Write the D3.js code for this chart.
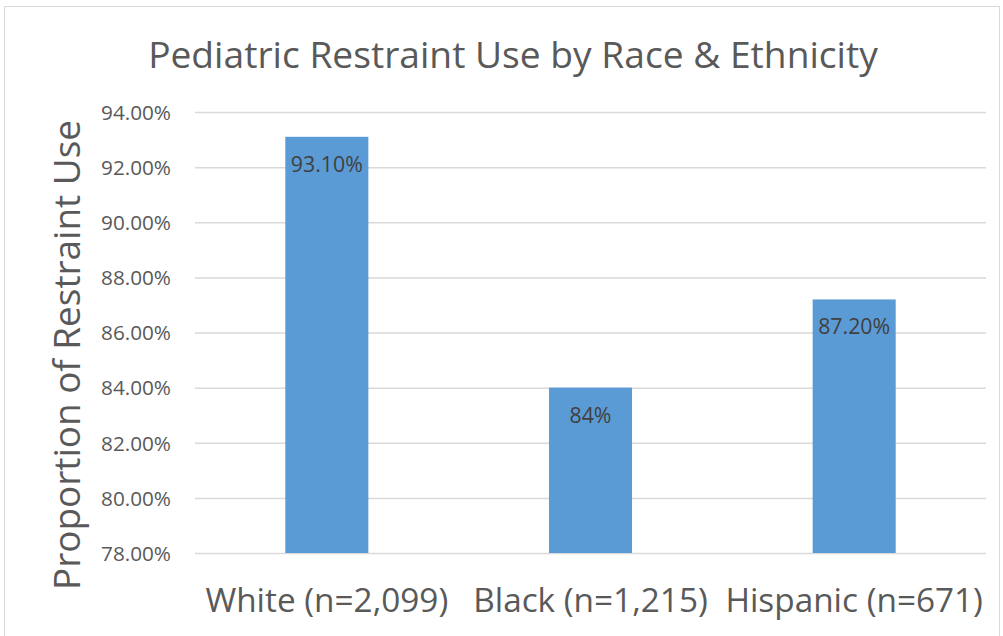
<!DOCTYPE html>
<html><head><meta charset="utf-8">
<script src="https://cdn.jsdelivr.net/npm/d3@7"></script>
<style>body{margin:0;background:#fff;} svg{display:block;}</style>
</head><body>
<svg id="chart" width="1003" height="636"></svg>
<script>
const categories = ["White (n=2,099)", "Black (n=1,215)", "Hispanic (n=671)"];
const values = [93.1, 84, 87.2];
const valueLabels = ["93.10%", "84%", "87.20%"];
const yTicks = [78, 80, 82, 84, 86, 88, 90, 92, 94];
const title = "Pediatric Restraint Use by Race & Ethnicity";
const yTitle = "Proportion of Restraint Use";

const FONT = "'Open Sans', 'Noto Sans', sans-serif";
const svg = d3.select("#chart");
const plot = {left: 195, right: 986, top: 112, bottom: 553};

svg.append("rect").attr("x", 4.5).attr("y", 6.5).attr("width", 995).attr("height", 640)
  .attr("fill", "#fff").attr("stroke", "#D9D9D9").attr("stroke-width", 1);

const x = d3.scaleBand().domain(categories).range([plot.left, plot.right]).padding(0);
const y = d3.scaleLinear().domain([78, 94]).range([plot.bottom, plot.top]);

function fitSize(sel, target) {
  const fs = parseFloat(sel.attr("font-size"));
  const w = sel.node().getComputedTextLength();
  return fs * target / w;
}

// gridlines + y tick labels
const yAxis = d3.axisLeft(y).tickValues(yTicks).tickSize(-(plot.right - plot.left))
  .tickFormat(d => d.toFixed(2) + "%").tickPadding(24);
const gy = svg.append("g").attr("transform", `translate(${plot.left},0)`).call(yAxis);
gy.select(".domain").remove();
gy.selectAll(".tick line").attr("stroke", "#D9D9D9").attr("stroke-width", 1.5);
const ticksText = gy.selectAll(".tick text").attr("font-family", FONT).attr("fill", "#595959")
  .attr("font-size", 18).attr("dy", "0.35em");
ticksText.attr("font-size", fitSize(d3.select(ticksText.nodes()[0]), 70).toFixed(2));

// bars
const barW = x.bandwidth() * 0.315;
svg.append("g").selectAll("rect").data(values).join("rect")
  .attr("x", (d, i) => x(categories[i]) + x.bandwidth() / 2 - barW / 2)
  .attr("width", barW)
  .attr("y", d => y(d))
  .attr("height", d => y(78) - y(d))
  .attr("fill", "#5B9BD5");

// data labels
const dl = svg.append("g").selectAll("text").data(values).join("text")
  .attr("x", (d, i) => x(categories[i]) + x.bandwidth() / 2)
  .attr("y", d => y(d) + 35)
  .attr("text-anchor", "middle")
  .attr("font-family", FONT).attr("font-size", 17).attr("fill", "#404040")
  .text((d, i) => valueLabels[i]);
dl.attr("font-size", fitSize(d3.select(dl.nodes()[0]), 72).toFixed(2));

// x axis labels
const xl = svg.append("g").selectAll("text").data(categories).join("text")
  .attr("x", d => x(d) + x.bandwidth() / 2)
  .attr("y", 612)
  .attr("text-anchor", "middle")
  .attr("font-family", FONT).attr("font-size", 28).attr("fill", "#595959")
  .text(d => d);
xl.attr("font-size", fitSize(d3.select(xl.nodes()[0]), 243).toFixed(2));

// title
const t = svg.append("text").attr("x", 513).attr("y", 68).attr("text-anchor", "middle")
  .attr("font-family", FONT).attr("font-size", 36).attr("fill", "#595959").text(title);
t.attr("font-size", fitSize(t, 730).toFixed(2));

// y title
const yt = svg.append("text").attr("transform", `translate(80,${(120+590)/2}) rotate(-90)`)
  .attr("text-anchor", "middle").attr("font-family", FONT).attr("font-size", 32)
  .attr("fill", "#595959").text(yTitle);
yt.attr("font-size", fitSize(yt, 470).toFixed(2));
</script>
</body></html>
